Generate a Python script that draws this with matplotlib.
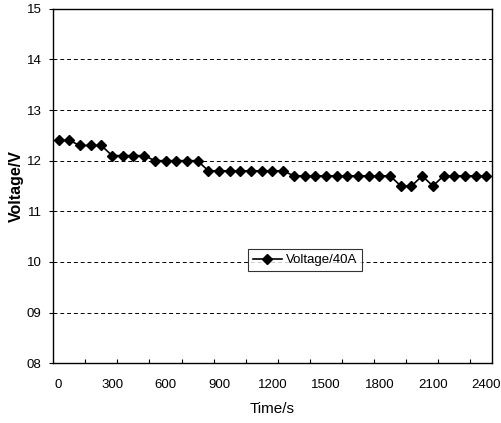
import matplotlib

matplotlib.use("Agg")
import matplotlib.pyplot as plt
import numpy as np

# time axis: one reading every 60 s
time_s = np.arange(0, 2401, 60)
voltage = [
    12.4, 12.4, 12.3, 12.3, 12.3, 12.1, 12.1, 12.1, 12.1, 12.0,
    12.0, 12.0, 12.0, 12.0, 11.8, 11.8, 11.8, 11.8, 11.8, 11.8,
    11.8, 11.8, 11.7, 11.7, 11.7, 11.7, 11.7, 11.7, 11.7, 11.7,
    11.7, 11.7, 11.5, 11.5, 11.7, 11.5, 11.7, 11.7, 11.7, 11.7,
    11.7,
]
x_ticks = [0, 300, 600, 900, 1200, 1500, 1800, 2100, 2400]
y_ticks = [8, 9, 10, 11, 12, 13, 14, 15]
y_labels = ["08", "09", "10", "11", "12", "13", "14", "15"]
minor_x = np.arange(150, 2400, 180)

plt.rcParams["font.family"] = ["Liberation Sans", "DejaVu Sans"]

fig = plt.figure(figsize=(5.02, 4.23), dpi=100)
ax = fig.add_axes([52.7 / 502, 1 - 363.3 / 423, (491.7 - 52.7) / 502, (363.3 - 8.7) / 423])

ax.plot(time_s, voltage, color="black", lw=1.2, marker="D", ms=5.5,
        label="Voltage/40A", zorder=3)

for v in y_ticks[1:-1]:
    ax.axhline(v, color="black", lw=0.7, ls=(0, (4, 3)), zorder=1)

ax.set_xlim(-33, 2430)
ax.set_ylim(8, 15)
ax.set_xticks(x_ticks)
ax.set_xticks(minor_x, minor=True)
ax.set_yticks(y_ticks)
ax.set_yticklabels(y_labels)
ax.tick_params(axis="x", which="major", length=0, pad=11, labelsize=9.5)
ax.tick_params(axis="x", which="minor", length=3, direction="in", width=0.8)
ax.tick_params(axis="y", length=3, width=0.8, labelsize=9.5, pad=5)
for s in ax.spines.values():
    s.set_linewidth(1.0)
    s.set_color("black")

ax.set_xlabel("Time/s", fontsize=11, labelpad=8)
ax.set_ylabel("Voltage/V", fontsize=11.5, fontweight="bold", labelpad=2)

leg = ax.legend(loc="center", bbox_to_anchor=((305 - 52.7) / 439, (363.3 - 260) / 354.6),
                frameon=True, fancybox=False, fontsize=9.5, handlelength=2.2,
                borderpad=0.4, handletextpad=0.3, borderaxespad=0)
leg.get_frame().set_edgecolor("black")
leg.get_frame().set_linewidth(0.8)

fig.savefig("out.png", dpi=100)
